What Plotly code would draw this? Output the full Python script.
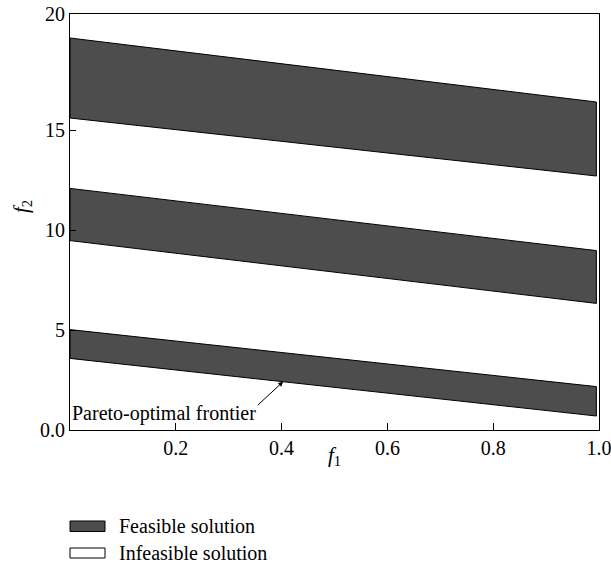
import plotly.graph_objects as go

# ---- data ----
x_ends = [0.0, 0.995]
band_names = ["Band 1", "Band 2", "Band 3"]
band_top_left = [19.6, 12.08, 5.02]
band_top_right = [16.4, 8.97, 2.17]
band_bottom_left = [15.6, 9.47, 3.58]
band_bottom_right = [12.7, 6.33, 0.70]

x_tick_vals = [0.2, 0.4, 0.6, 0.8, 1.0]
x_tick_text = ["0.2", "0.4", "0.6", "0.8", "1.0"]
y_tick_vals = [0, 5, 10, 15, 20.8]
y_tick_text = ["0.0", "5", "10", "15", "20"]

legend_labels = ["Feasible solution", "Infeasible solution"]
legend_fills = ["#4d4d4d", "white"]

annot_text = "Pareto-optimal frontier"
annot_tip = (0.403, 2.42)
annot_tail = (0.352, 1.17)

FONT = "Times New Roman, Liberation Serif, serif"
DARK = "#4d4d4d"

fig = go.Figure()

for i in range(len(band_names)):
    xs = [x_ends[0], x_ends[1], x_ends[1], x_ends[0], x_ends[0]]
    ys = [band_top_left[i], band_top_right[i], band_bottom_right[i],
          band_bottom_left[i], band_top_left[i]]
    fig.add_trace(go.Scatter(
        x=xs, y=ys, mode="lines", fill="toself", fillcolor=DARK,
        line=dict(color="black", width=1),
        name=legend_labels[0], showlegend=False, hoverinfo="skip"))

fig.add_annotation(
    x=annot_tip[0], y=annot_tip[1], ax=annot_tail[0], ay=annot_tail[1],
    xref="x", yref="y", axref="x", ayref="y",
    text="", showarrow=True, arrowhead=2, arrowsize=1, arrowwidth=1,
    arrowcolor="black", standoff=0)
fig.add_annotation(
    x=0.0, y=0.85, xref="x", yref="y", xanchor="left", yanchor="middle",
    text=annot_text, showarrow=False,
    font=dict(family=FONT, size=20, color="black"))

# manual legend (bordered swatches); plot area spans 529 x 416 px
leg_rows_px = [(521, 531.5), (548, 558)]
for (y0px, y1px), lab, col in zip(leg_rows_px, legend_labels, legend_fills):
    y0 = (430 - y0px) / 416
    y1 = (430 - y1px) / 416
    fig.add_shape(type="rect", xref="paper", yref="paper",
                  x0=0.0, x1=35 / 529, y0=y1, y1=y0,
                  fillcolor=col, line=dict(color="black", width=1))
    fig.add_annotation(x=47 / 529, y=(y0 + y1) / 2, xref="paper", yref="paper",
                       xanchor="left", yanchor="middle", text=lab,
                       showarrow=False,
                       font=dict(family=FONT, size=20, color="black"))

# axis titles
fig.add_annotation(x=0.5, y=(430 - 456) / 416, xref="paper", yref="paper",
                   text="<i>f</i><sub>1</sub>", showarrow=False,
                   xanchor="center", yanchor="middle",
                   font=dict(family=FONT, size=21, color="black"))
fig.add_annotation(x=(22 - 70) / 529, y=(430 - 207) / 416, xref="paper",
                   yref="paper", text="<i>f</i><sub>2</sub>", showarrow=False,
                   textangle=-90, xanchor="center", yanchor="middle",
                   font=dict(family=FONT, size=21, color="black"))

fig.update_xaxes(
    range=[0, 1.0], tickvals=x_tick_vals, ticktext=x_tick_text,
    ticks="inside", ticklen=7, tickcolor="black", showline=True,
    linecolor="black", linewidth=1, mirror=True, showgrid=False,
    zeroline=False, automargin=False, ticklabeloverflow="allow",
    tickfont=dict(family=FONT, size=20, color="black"))
fig.update_yaxes(
    range=[0, 20.8], tickvals=y_tick_vals, ticktext=y_tick_text,
    ticks="inside", ticklen=6, tickcolor="black", showline=True,
    linecolor="black", linewidth=1, mirror=True, showgrid=False,
    zeroline=False, automargin=False, ticklabeloverflow="allow",
    tickfont=dict(family=FONT, size=20, color="black"))

fig.update_layout(
    width=611, height=565,
    margin=dict(l=70, r=12, t=14, b=135),
    plot_bgcolor="white", paper_bgcolor="white",
    showlegend=False,
)

# remove the page's default 8px body margin so the figure fills the window
fig.write_html("out.html",
               config={"displayModeBar": False},
               post_script="document.body.style.margin='0';"
                           "document.body.style.overflow='hidden';")
